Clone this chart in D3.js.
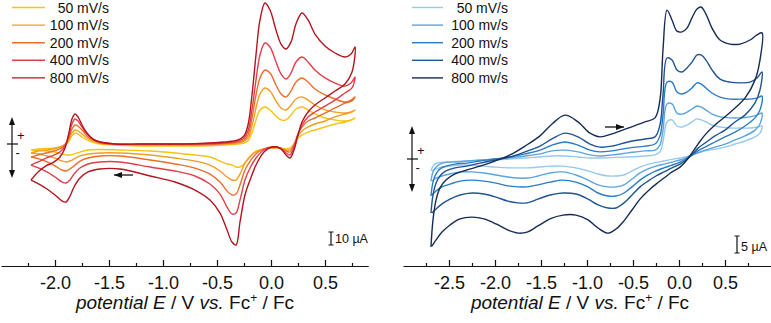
<!DOCTYPE html>
<html>
<head>
<meta charset="utf-8">
<script src="https://cdnjs.cloudflare.com/ajax/libs/d3/7.8.5/d3.min.js"></script>
<style>
body { margin: 0; background: #fff; }
text { font-family: "Liberation Sans", Arial, sans-serif; fill: #111; }
</style>
</head>
<body>
<script>
let width = 771
let height = 323

// left panel: potential (V vs Fc+/Fc), forward scan then reverse scan
let leftPotential = [-2.222, -2.157, -2.083, -2.009, -1.954, -1.907, -1.870, -1.843, -1.815, -1.787, -1.750, -1.704, -1.648, -1.583, -1.444, -1.213, -0.935, -0.657, -0.426, -0.306, -0.250, -0.213, -0.176, -0.139, -0.102, -0.056, -0.009, 0.046, 0.093, 0.139, 0.185, 0.231, 0.287, 0.343, 0.407, 0.500, 0.593, 0.685, 0.741, 0.778,
  0.750, 0.685, 0.593, 0.500, 0.407, 0.343, 0.287, 0.250, 0.213, 0.176, 0.139, 0.083, 0.009, -0.065, -0.139, -0.194, -0.241, -0.287, -0.324, -0.361, -0.407, -0.472, -0.565, -0.704, -0.889, -1.120, -1.398, -1.583, -1.694, -1.769, -1.824, -1.861, -1.898, -1.935, -2.000, -2.074, -2.148, -2.222]

// currents in µA
let leftCurrent50 = [-4.6, -3.8, -3.5, -3.1, -2.3, -0.8, 2.3, 6.2, 8.5, 7.7, 5.4, 3.1, 1.2, 0, -0.8, -1.5, -1.5, -1.5, -0.8, 0, 0.8, 2.3, 8.5, 18.5, 26.2, 28.5, 26.2, 21.5, 18.5, 18.5, 22.3, 26.9, 28.5, 26.2, 23.1, 20.0, 18.5, 17.7, 18.5, 20.0,
  18.5, 16.9, 15.4, 13.1, 10.8, 9.2, 6.9, 4.6, 0, -3.1, -3.8, -3.1, -3.1, -3.8, -5.4, -9.2, -14.6, -17.7, -17.7, -16.2, -15.4, -13.1, -10.0, -8.5, -6.9, -5.4, -4.6, -4.2, -4.6, -6.2, -7.7, -8.5, -8.5, -7.7, -6.2, -5.4, -5.0, -4.6]
let leftCurrent100 = [-6.9, -5.4, -4.6, -3.8, -2.3, 0, 3.8, 8.5, 10.8, 10.0, 7.7, 4.6, 2.3, 0.8, -0.4, -0.8, -0.8, -0.8, 0, 0.8, 2.3, 4.6, 13.8, 27.7, 38.5, 43.1, 40.8, 33.1, 27.7, 26.2, 30.0, 34.6, 36.2, 33.8, 30.0, 26.2, 24.6, 23.8, 24.6, 26.2,
  24.6, 23.1, 20.8, 17.7, 15.4, 13.1, 10.0, 6.2, 0, -4.6, -4.6, -3.1, -3.1, -3.8, -6.2, -10.0, -14.6, -23.1, -27.7, -27.7, -25.4, -20.8, -16.2, -13.1, -10.8, -8.5, -6.9, -6.9, -7.7, -9.2, -11.5, -13.1, -13.8, -13.1, -10.8, -9.2, -7.7, -6.9]
let leftCurrent200 = [-10.0, -8.5, -6.9, -5.4, -3.8, -0.8, 5.4, 11.5, 14.6, 13.8, 10.8, 6.2, 3.1, 0.8, 0, -0.4, -0.4, -0.4, 0.4, 1.5, 3.1, 6.9, 20.0, 37.7, 50.8, 56.9, 54.6, 45.4, 38.5, 36.2, 40.8, 47.7, 50.8, 47.7, 42.3, 37.7, 34.6, 32.3, 33.8, 36.2,
  33.1, 31.5, 27.7, 23.8, 20.0, 17.7, 13.1, 7.7, -0.8, -6.2, -5.4, -3.1, -2.3, -3.8, -7.7, -13.1, -20.0, -31.5, -38.5, -39.2, -36.2, -29.2, -23.1, -18.5, -15.4, -12.3, -9.2, -9.2, -10.8, -13.1, -16.9, -19.2, -20.8, -20.0, -16.9, -13.8, -11.5, -10.0]
let leftCurrent400 = [-16.2, -13.8, -10.8, -8.5, -6.2, -1.5, 6.9, 15.4, 19.2, 17.7, 13.1, 7.7, 3.8, 1.5, 0, 0, 0, 0, 0.8, 2.3, 4.6, 10.0, 26.2, 49.2, 68.5, 77.7, 74.6, 63.1, 53.8, 50.0, 54.6, 63.1, 66.9, 63.1, 56.9, 50.8, 46.9, 44.6, 46.9, 51.5,
  43.1, 39.2, 33.8, 29.2, 24.6, 20.8, 14.6, 7.7, -2.3, -8.5, -6.9, -3.1, -2.3, -4.6, -10.8, -18.5, -27.7, -43.1, -53.1, -53.8, -48.5, -38.5, -30.8, -24.6, -20.8, -17.7, -13.8, -13.8, -15.4, -18.5, -23.1, -27.7, -30.0, -29.2, -25.4, -21.5, -18.5, -16.2]
let leftCurrent800 = [-27.7, -21.5, -16.9, -13.8, -10.0, -3.1, 9.2, 19.2, 23.1, 20.8, 14.6, 8.5, 3.8, 1.5, 0, 0, 0, 0.4, 1.5, 3.1, 6.2, 14.6, 37.7, 68.5, 95.4, 108.5, 103.1, 87.7, 76.9, 73.1, 78.5, 92.3, 100.8, 95.4, 84.6, 75.4, 70.0, 66.9, 69.2, 74.6,
  55.4, 46.2, 40.8, 35.4, 30.0, 24.6, 16.9, 6.9, -4.6, -10.8, -8.5, -3.1, -2.3, -6.2, -16.2, -27.7, -39.2, -60.0, -77.7, -75.4, -66.2, -53.1, -43.1, -35.4, -29.2, -24.6, -19.2, -19.2, -21.5, -26.2, -33.1, -40.0, -44.6, -43.8, -39.2, -34.6, -30.8, -27.7]

// right panel
let rightPotential = [-2.696, -2.674, -2.641, -2.598, -2.533, -2.435, -2.304, -2.163, -2.000, -1.837, -1.674, -1.511, -1.380, -1.239, -1.098, -0.967, -0.859, -0.728, -0.554, -0.370, -0.261, -0.207, -0.174, -0.130, -0.076, -0.022, 0.033, 0.087, 0.141, 0.196, 0.239, 0.293, 0.359, 0.446, 0.554, 0.663, 0.772, 0.848, 0.902,
  0.880, 0.826, 0.717, 0.609, 0.500, 0.391, 0.283, 0.207, 0.141, 0.076, 0.011, -0.076, -0.163, -0.250, -0.337, -0.424, -0.511, -0.598, -0.685, -0.772, -0.880, -0.989, -1.120, -1.261, -1.402, -1.533, -1.652, -1.750, -1.859, -1.989, -2.120, -2.250, -2.380, -2.489, -2.576, -2.641, -2.685]

let rightCurrent50 = [-3.5, -2.1, -1.3, -1.0, -0.9, -0.7, -0.6, -0.4, -0.3, 0, 0.3, 0.6, 0.9, 0.9, 0.6, 0.3, 0.3, 0.4, 0.6, 0.9, 1.2, 2.1, 5.0, 10.9, 11.5, 9.7, 9.4, 10.0, 10.9, 11.8, 11.5, 10.9, 10.0, 9.4, 9.1, 9.1, 9.1, 9.4, 9.7,
  7.6, 6.5, 5.3, 4.4, 3.5, 2.9, 2.4, 1.8, 1.2, 0.6, 0.3, -0.1, -0.6, -1.0, -1.6, -2.4, -3.5, -4.7, -5.0, -5.0, -4.4, -3.5, -2.6, -2.1, -2.1, -2.4, -2.6, -2.6, -2.6, -2.4, -2.1, -1.8, -1.8, -2.1, -2.4, -2.9, -3.5]
let rightCurrent100 = [-6.5, -3.8, -2.4, -1.5, -1.0, -0.9, -0.6, -0.3, 0, 0.4, 0.9, 1.5, 2.4, 2.6, 2.1, 1.2, 0.9, 1.2, 1.8, 2.4, 2.6, 4.1, 8.5, 16.2, 16.2, 13.5, 13.2, 13.8, 14.7, 15.6, 15.3, 14.4, 13.2, 12.4, 12.1, 12.1, 12.4, 12.9, 13.5,
  10.3, 8.5, 6.8, 5.6, 4.4, 3.5, 2.6, 1.8, 1.2, 0.3, -0.3, -0.9, -1.5, -2.1, -2.9, -4.1, -5.9, -7.6, -8.2, -8.2, -7.6, -6.2, -4.7, -3.8, -4.1, -5.0, -5.6, -5.6, -5.3, -4.7, -4.1, -3.8, -3.8, -4.4, -5.0, -5.6, -6.5]
let rightCurrent200 = [-10.9, -6.8, -4.4, -2.9, -2.1, -1.5, -1.2, -0.6, 0, 0.6, 1.5, 2.6, 4.1, 5.0, 4.1, 2.6, 2.1, 2.4, 3.2, 3.8, 4.4, 6.8, 12.9, 22.6, 22.6, 19.7, 19.1, 19.7, 20.9, 22.4, 22.1, 20.9, 19.4, 18.2, 17.6, 17.6, 17.6, 17.9, 18.5,
  14.4, 12.1, 9.7, 7.9, 6.5, 5.0, 3.5, 2.4, 1.2, 0, -0.9, -1.8, -2.6, -3.5, -4.7, -6.2, -8.2, -10.0, -10.9, -10.9, -10.0, -8.2, -6.8, -6.2, -6.8, -7.6, -8.2, -8.2, -7.9, -7.1, -6.5, -6.2, -6.5, -7.4, -8.2, -9.4, -10.6]
let rightCurrent400 = [-15.9, -10.6, -7.1, -5.0, -3.5, -2.6, -2.1, -1.2, -0.3, 0.6, 2.1, 3.8, 5.9, 7.6, 6.5, 4.4, 3.5, 3.8, 5.0, 5.9, 6.5, 10.0, 18.8, 29.7, 29.1, 26.2, 25.6, 26.8, 28.5, 30.6, 30.6, 29.1, 26.2, 23.5, 22.6, 22.4, 22.6, 23.8, 25.6,
  20.3, 16.5, 12.9, 10.9, 8.5, 6.8, 4.7, 3.2, 1.2, -0.3, -1.5, -2.6, -3.8, -5.0, -6.5, -8.2, -10.6, -12.9, -14.4, -14.4, -13.5, -11.8, -10.3, -10.0, -10.6, -11.8, -12.9, -12.9, -12.4, -11.2, -10.3, -10.0, -10.6, -11.8, -13.2, -14.7, -15.9]
let rightCurrent800 = [-25.9, -17.9, -12.1, -8.5, -6.2, -4.4, -3.2, -2.1, -0.6, 1.2, 3.8, 6.8, 10.3, 12.9, 10.9, 7.6, 6.5, 7.4, 9.1, 10.9, 12.1, 17.4, 32.1, 43.8, 40.9, 37.6, 37.4, 38.5, 41.5, 44.1, 44.7, 42.6, 38.5, 35.0, 33.8, 33.8, 35.0, 36.5, 37.1,
  29.1, 23.2, 17.9, 15.0, 12.4, 10.0, 7.1, 4.4, 1.8, -0.6, -2.4, -3.8, -5.6, -7.4, -9.4, -11.8, -15.0, -18.2, -20.6, -21.8, -20.3, -17.9, -16.5, -16.5, -17.6, -19.7, -21.5, -21.8, -20.9, -19.1, -17.6, -17.1, -17.6, -19.4, -21.5, -23.8, -25.6]

let leftLabels = ['50 mV/s', '100 mV/s', '200 mV/s', '400 mV/s', '800 mV/s']
let rightLabels = ['50 mV/s', '100 mv/s', '200 mv/s', '400 mv/s', '800 mv/s']
let leftColors = ['#f6c30f', '#f29e24', '#eb6e2c', '#e13f4a', '#b5141e']
let rightColors = ['#95c9ef', '#5aa5df', '#2b7cc6', '#1f5493', '#152c55']

let leftMajor = [-2.0, -1.5, -1.0, -0.5, 0.0, 0.5]
let leftMinor = [-2.25, -1.75, -1.25, -0.75, -0.25, 0.25, 0.75]
let rightMajor = [-2.5, -2.0, -1.5, -1.0, -0.5, 0.0, 0.5]
let rightMinor = [-2.75, -2.25, -1.75, -1.25, -0.75, -0.25, 0.25, 0.75]

let svg = d3.select('body').append('svg')
  .attr('width', width)
  .attr('height', height)

let axisY = 266

function arrowHead(g, x, y, dir) {
  // dir: 'up', 'down', 'left', 'right'
  let p
  if (dir == 'up') p = [[x, y], [x - 3, y + 8], [x + 3, y + 8]]
  if (dir == 'down') p = [[x, y], [x - 3, y - 8], [x + 3, y - 8]]
  if (dir == 'left') p = [[x, y], [x + 8, y - 3], [x + 8, y + 3]]
  if (dir == 'right') p = [[x, y], [x - 8, y - 3], [x - 8, y + 3]]
  g.append('path').attr('d', 'M' + p.join('L') + 'Z').attr('fill', '#111')
}

function drawPanel(cfg) {
  let x = d3.scaleLinear().domain(cfg.xDomain).range(cfg.xRange)
  let y = d3.scaleLinear().domain(cfg.yDomain).range(cfg.yRange)
  let g = svg.append('g')

  let line = d3.line()
    .x(d => x(d[0]))
    .y(d => y(d[1]))
    .curve(d3.curveCatmullRom.alpha(0.5))

  cfg.currents.forEach((cur, i) => {
    let pts = cfg.potential.map((e, j) => [e, cur[j]])
    g.append('path')
      .attr('d', line(pts))
      .attr('fill', 'none')
      .attr('stroke', cfg.colors[i])
      .attr('stroke-width', 1.4)
      .attr('stroke-linejoin', 'round')
  })

  // x axis, ticks pointing up
  let ax = g.append('g')
    .attr('transform', 'translate(0,' + axisY + ')')
    .call(d3.axisBottom(x).tickValues(cfg.major).tickSizeInner(-6).tickSizeOuter(0)
      .tickPadding(10).tickFormat(d => d.toFixed(1)))
  ax.selectAll('text').style('font-size', '18px').style('font-family', '"Liberation Sans", Arial, sans-serif')
  ax.selectAll('path, line').attr('stroke', '#111').attr('stroke-width', 1.2)

  let mx = g.append('g')
    .attr('transform', 'translate(0,' + axisY + ')')
    .call(d3.axisBottom(x).tickValues(cfg.minor).tickSizeInner(-3).tickSizeOuter(0).tickFormat(''))
  mx.select('.domain').remove()
  mx.selectAll('line').attr('stroke', '#111').attr('stroke-width', 1.2)

  // axis title
  let t = g.append('text')
    .attr('x', cfg.titleX)
    .attr('y', 309)
    .attr('text-anchor', 'middle')
    .style('font-size', '19px')
  t.append('tspan').style('font-style', 'italic').text('potential E')
  t.append('tspan').text(' / V ')
  t.append('tspan').style('font-style', 'italic').text('vs.')
  t.append('tspan').text(' Fc')
  t.append('tspan').attr('dy', -7).style('font-size', '12px').text('+')
  t.append('tspan').attr('dy', 7).text(' / Fc')

  // legend
  cfg.labels.forEach((lab, i) => {
    let ly = 7.5 + i * 17.6
    g.append('line')
      .attr('x1', cfg.legendX[0]).attr('x2', cfg.legendX[1])
      .attr('y1', ly).attr('y2', ly)
      .attr('stroke', cfg.colors[i]).attr('stroke-width', 1.4)
    g.append('text')
      .attr('x', cfg.legendX[2]).attr('y', ly + 5)
      .attr('text-anchor', 'end')
      .style('font-size', '14px')
      .text(lab)
  })

  // current sign indicator
  let s = cfg.sign
  g.append('line').attr('x1', s.x).attr('x2', s.x).attr('y1', s.top + 4).attr('y2', s.bottom - 4)
    .attr('stroke', '#111').attr('stroke-width', 1.2)
  arrowHead(g, s.x, s.top, 'up')
  arrowHead(g, s.x, s.bottom, 'down')
  g.append('line').attr('x1', s.x - 5).attr('x2', s.x + 6).attr('y1', y(0)).attr('y2', y(0))
    .attr('stroke', '#111').attr('stroke-width', 1.2)
  g.append('text').attr('x', s.x + 5).attr('y', y(0) - 4).style('font-size', '13px').text('+')
  g.append('text').attr('x', s.x + 3.5).attr('y', y(0) + 13).style('font-size', '13px').text('-')

  // scale bar
  let b = cfg.bar
  let y0 = b.bottom
  let y1 = b.bottom - (y(0) - y(b.value))
  g.append('path')
    .attr('d', 'M' + (b.x - 2.5) + ',' + y0 + 'H' + (b.x + 2.5) + 'M' + b.x + ',' + y0 + 'V' + y1 + 'M' + (b.x - 2.5) + ',' + y1 + 'H' + (b.x + 2.5))
    .attr('stroke', '#111').attr('stroke-width', 1.2).attr('fill', 'none')
  g.append('text').attr('x', b.x + 4).attr('y', y0 - 2).style('font-size', '12.5px').text(b.label)

  // scan direction arrow
  let a = cfg.scan
  g.append('line').attr('x1', a.x1).attr('x2', a.x2).attr('y1', a.y).attr('y2', a.y)
    .attr('stroke', '#111').attr('stroke-width', 1.3)
  arrowHead(g, a.dir == 'left' ? a.x1 : a.x2, a.y, a.dir)
}

drawPanel({
  potential: leftPotential,
  currents: [leftCurrent50, leftCurrent100, leftCurrent200, leftCurrent400, leftCurrent800],
  colors: leftColors,
  labels: leftLabels,
  xDomain: [-2.5, 0.9], xRange: [1, 368.2],
  yDomain: [-100, 110], yRange: [274, 1],
  major: leftMajor, minor: leftMinor,
  titleX: 185,
  legendX: [12, 45, 109],
  sign: { x: 12, top: 117, bottom: 178 },
  bar: { x: 331, bottom: 245, value: 10, label: '10 µA' },
  scan: { x1: 114, x2: 133, y: 175, dir: 'left' }
})

drawPanel({
  potential: rightPotential,
  currents: [rightCurrent50, rightCurrent100, rightCurrent200, rightCurrent400, rightCurrent800],
  colors: rightColors,
  labels: rightLabels,
  xDomain: [-3.0, 1.0], xRange: [403, 771],
  yDomain: [-30, 45], yRange: [261, 6],
  major: rightMajor, minor: rightMinor,
  titleX: 580,
  legendX: [412, 443, 508],
  sign: { x: 412, top: 126, bottom: 192 },
  bar: { x: 737, bottom: 253, value: 5, label: '5 µA' },
  scan: { x1: 605, x2: 624, y: 127, dir: 'right' }
})
</script>
</body>
</html>
